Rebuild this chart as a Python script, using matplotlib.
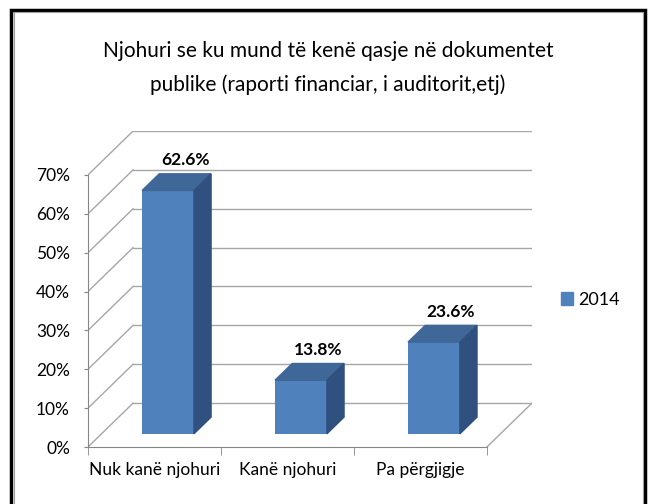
import numpy as np
import matplotlib
matplotlib.use("Agg")
import matplotlib.pyplot as plt
from matplotlib.patches import Polygon
from matplotlib.lines import Line2D

# data
categories = ["Nuk kanë njohuri", "Kanë njohuri", "Pa përgjigje"]
values = [62.6, 13.8, 23.6]
series_name = "2014"
yticks = [0, 10, 20, 30, 40, 50, 60, 70]
title = "Njohuri se ku mund të kenë qasje në dokumentet\npublike (raporti financiar, i auditorit,etj)"

plt.rcParams['font.family'] = ['Liberation Sans Narrow', 'Lato', 'DejaVu Sans']

W, H = 649, 504
fig = plt.figure(figsize=(W / 100, H / 100), dpi=100)

# fake 3d box: depth vector in data units (categories, percent)
depth_x = 0.339
depth_y = 11.3
front = 0.3      # bars start this far into the box
bar_d = 0.38     # bar depth as share of box depth
bar_w = 0.39

front_col = '#4F81BD'
top_col = '#3F6797'
side_col = '#30517F'
grid_col = '#A6A6A6'

# axes box in pixels (front plane origin at 88,447)
px0, px1 = 88, 532
py0, py1 = 447, 131
ax = fig.add_axes([px0 / W, 1 - py0 / H, (px1 - px0) / W, (py0 - py1) / H])
ax.set_xlim(0, len(categories) + depth_x)
ax.set_ylim(0, yticks[-1] + depth_y)
ax.patch.set_alpha(0)

# walls and floor
n = len(categories)
for t in yticks:
    ax.plot([0, depth_x], [t, t + depth_y], color=grid_col, lw=1, zorder=1)
    ax.plot([depth_x, n + depth_x], [t + depth_y, t + depth_y], color=grid_col, lw=1, zorder=1)
ax.plot([n, n + depth_x], [0, depth_y], color=grid_col, lw=1, zorder=1)

# bars
xc = np.arange(n) + 0.5 + front * depth_x
base = front * depth_y
ax.bar(xc, values, width=bar_w, bottom=base, color=front_col, zorder=3)
for x, v in zip(xc, values):
    l, r = x - bar_w / 2, x + bar_w / 2
    top = base + v
    ddx, ddy = bar_d * depth_x, bar_d * depth_y
    ax.add_patch(Polygon([(l, top), (r, top), (r + ddx, top + ddy), (l + ddx, top + ddy)],
                         closed=True, color=top_col, zorder=3))
    ax.add_patch(Polygon([(r, base), (r + ddx, base + ddy), (r + ddx, top + ddy), (r, top)],
                         closed=True, color=side_col, zorder=3))
    ax.annotate(f"{v}%", (x + ddx, top + ddy), xytext=(0, 4), textcoords='offset points',
                ha='center', va='bottom', fontsize=12.5, fontweight='bold', zorder=4)

# axes styling
for s in ['top', 'right']:
    ax.spines[s].set_visible(False)
ax.spines['left'].set_bounds(0, yticks[-1])
ax.spines['bottom'].set_bounds(0, n)
ax.spines['left'].set_color('#868686')
ax.spines['bottom'].set_color('#868686')
ax.set_yticks(yticks)
ax.set_yticklabels([f"{t}%" for t in yticks], fontsize=12.5)
ax.tick_params(axis='y', length=3, color='#868686', pad=10)
ax.set_xticks(np.arange(n) + 0.5)
ax.set_xticklabels(categories, fontsize=12.5)
ax.set_xticks(np.arange(n + 1), minor=True)
ax.tick_params(axis='x', which='major', length=0, pad=11)
ax.tick_params(axis='x', which='minor', length=6, color='#868686')

# legend
h = plt.Rectangle((0, 0), 1, 1, color=front_col)
fig.legend([h], [series_name], loc='center left', bbox_to_anchor=(561 / W, 1 - 300 / H),
           frameon=False, fontsize=13, handlelength=0.65, handleheight=0.7, handletextpad=0.3,
           borderpad=0, borderaxespad=0)

# title
fig.text(328 / W, 1 - 68 / H, title, ha='center', va='center', fontsize=15, linespacing=1.85)

# black frame (no bottom edge)
fig.add_artist(Line2D([11 / W, 11 / W, 645 / W, 645 / W], [0, 1 - 9.5 / H, 1 - 9.5 / H, 0],
                      color='black', lw=2.5, solid_joinstyle='miter'))
fig.add_artist(Line2D([13.5 / W, 13.5 / W, 642.5 / W, 642.5 / W], [0, 1 - 12 / H, 1 - 12 / H, 0],
                      color='#A0A0A0', lw=0.8))

fig.savefig("out.png", dpi=100)
